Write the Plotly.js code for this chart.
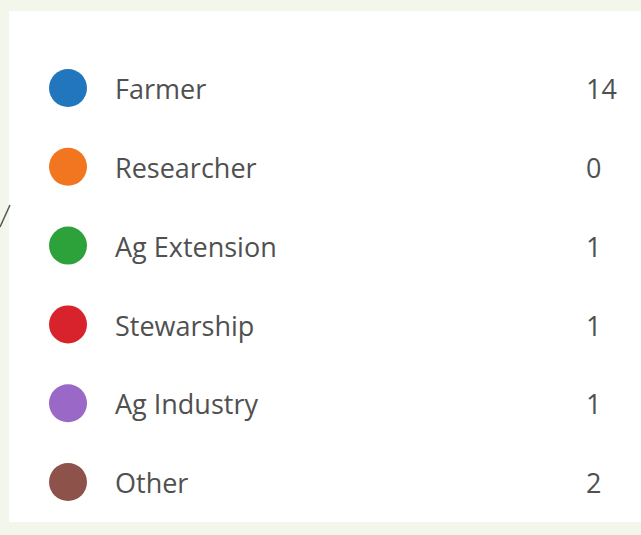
<!DOCTYPE html>
<html><head><meta charset="utf-8">
<script src="https://cdn.plot.ly/plotly-3.0.1.min.js"></script>
<style>html,body{margin:0;padding:0;background:#f3f6ea;}</style>
</head><body>
<div id="chart" style="width:641px;height:535px;"></div>
<script>
const categories = ["Farmer", "Researcher", "Ag Extension", "Stewarship", "Ag Industry", "Other"];
const counts = [14, 0, 1, 1, 1, 2];
const colors = ["#2176bd", "#f27620", "#2ea23a", "#d9232c", "#9a68c6", "#8d5249"];

const rows = categories.map((c, i) => i);
const W = 641, H = 535;
const rowTop = 88, rowStep = 78.8;
const yRange = [(H - rowTop) / rowStep, -rowTop / rowStep];

const traces = [{
  type: "scatter", mode: "markers",
  x: rows.map(() => 68), y: rows,
  marker: {size: 38, color: colors, line: {width: 0}},
  hoverinfo: "skip", showlegend: false
}];

const font = {family: "Open Sans, sans-serif", size: 27, color: "#505050"};
const annotations = [];
categories.forEach((c, i) => {
  annotations.push({x: 113, y: i + 0.01, xref: "x", yref: "y", text: c, showarrow: false,
    xanchor: "left", yanchor: "middle", font: font});
  annotations.push({x: 584, y: i + 0.01, xref: "x", yref: "y", text: String(counts[i]), showarrow: false,
    xanchor: "left", yanchor: "middle", font: font});
});

const layout = {
  width: W, height: H,
  margin: {l: 0, r: 0, t: 0, b: 0},
  paper_bgcolor: "#f3f6ea", plot_bgcolor: "rgba(0,0,0,0)",
  xaxis: {range: [0, W], visible: false, fixedrange: true},
  yaxis: {range: yRange, visible: false, fixedrange: true},
  showlegend: false,
  shapes: [
    {type: "rect", xref: "paper", yref: "paper", x0: 9 / W, x1: 1, y0: 1 - 522 / H, y1: 1 - 11 / H,
      fillcolor: "#ffffff", line: {width: 0}, layer: "below"},
    {type: "line", xref: "paper", yref: "paper", x0: 0 / W, y0: 1 - 227 / H, x1: 10 / W, y1: 1 - 205 / H,
      line: {color: "#555555", width: 1.5}}
  ],
  annotations: annotations
};

Plotly.newPlot("chart", traces, layout, {displayModeBar: false, staticPlot: true});
</script>
</body></html>
